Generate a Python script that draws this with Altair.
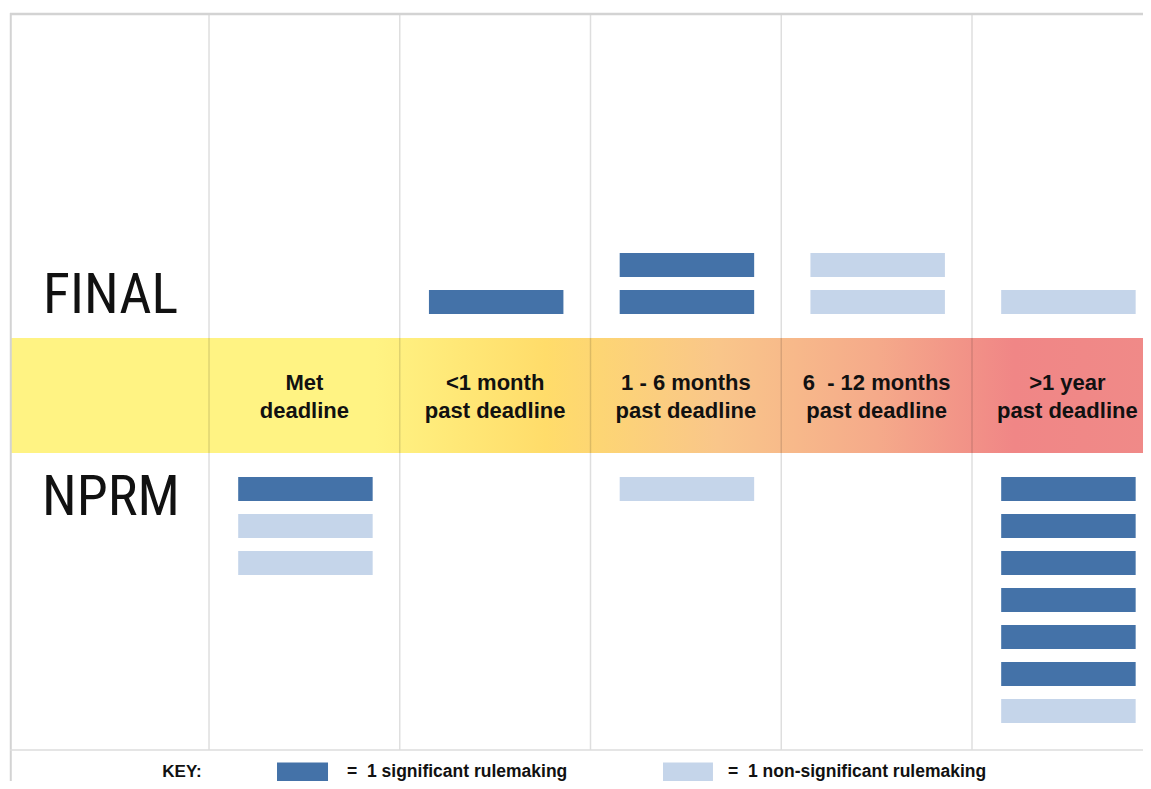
import altair as alt
import pandas as pd

# ---------------- data ----------------
categories = ["Met\ndeadline", "<1 month\npast deadline", "1 - 6 months\npast deadline",
              "6\u00a0\u00a0- 12 months\npast deadline", ">1 year\npast deadline"]
final_significant = [0, 1, 2, 0, 0]
final_non_significant = [0, 0, 0, 2, 1]
nprm_significant = [1, 0, 0, 0, 6]
nprm_non_significant = [2, 0, 1, 0, 1]
stage_labels = ["FINAL", "NPRM"]
key_labels = ["=\u00a0\u00a01 significant rulemaking", "=\u00a0\u00a01 non-significant rulemaking"]

DARK = "#4472A8"
LIGHT = "#C5D5EA"
NARROW = "Liberation Sans Narrow, Arial Narrow, Roboto Condensed, DejaVu Sans Condensed, Liberation Sans, sans-serif"
SANS = "Liberation Sans, Arial, sans-serif"

# ---------------- layout constants (scale units) ----------------
PX_PER_UNIT = 37.0
PLOT_H = 768
X_MIN, X_MAX = -1.0433, 4.9384
Y_MAX = (395.5 - 13) / PX_PER_UNIT
Y_MIN = Y_MAX - PLOT_H / PX_PER_UNIT
BAND = 1.554
FIRST_SLOT = 2.53
HALF_BAR = 0.324
BOTTOM_LINE = -9.581

xs = alt.Scale(domain=[X_MIN, X_MAX], nice=False, zero=False)
ys = alt.Scale(domain=[Y_MIN, Y_MAX], nice=False, zero=False)


def X(f):
    return alt.X(f, type="quantitative", scale=xs, axis=None)


def Y(f):
    return alt.Y(f, type="quantitative", scale=ys, axis=None)


# bars table
rows = []
for stage, sign, sig, non in [("FINAL", 1, final_significant, final_non_significant),
                              ("NPRM", -1, nprm_significant, nprm_non_significant)]:
    for i in range(len(categories)):
        kinds = ["significant"] * sig[i] + ["non-significant"] * non[i]
        for k, kind in enumerate(kinds):
            c = sign * (FIRST_SLOT + k)
            rows.append({"stage": stage, "cat": i, "kind": kind,
                         "x": i + 0.153, "x2": i + 0.858,
                         "y": c - HALF_BAR, "y2": c + HALF_BAR})
bars_df = pd.DataFrame(rows)

color_scale = alt.Scale(domain=["significant", "non-significant"], range=[DARK, LIGHT])

band = alt.Chart(pd.DataFrame([{"x": X_MIN, "x2": X_MAX, "y": -BAND, "y2": BAND}])).mark_rect(
    color=alt.LinearGradient(
        gradient="linear", x1=0, x2=1, y1=0, y2=0,
        stops=[alt.GradientStop(color="#FFF383", offset=0.0),
               alt.GradientStop(color="#FFF383", offset=0.32),
               alt.GradientStop(color="#FFDC6A", offset=0.47),
               alt.GradientStop(color="#F9C68A", offset=0.62),
               alt.GradientStop(color="#F5AA8A", offset=0.76),
               alt.GradientStop(color="#F08686", offset=0.88),
               alt.GradientStop(color="#F08A88", offset=1.0)])
).encode(x=X("x"), x2="x2", y=Y("y"), y2="y2")

grid = alt.Chart(pd.DataFrame({"x": list(range(len(categories))),
                               "y": [BOTTOM_LINE] * len(categories),
                               "y2": [Y_MAX] * len(categories)})).mark_rule(
    color="black", opacity=0.13, strokeWidth=1.5
).encode(x=X("x"), y=Y("y"), y2="y2")

left_border = alt.Chart(pd.DataFrame([{"x": X_MIN + 0.004, "y": Y_MIN, "y2": Y_MAX}])).mark_rule(
    color="#D3D3D3", strokeWidth=2
).encode(x=X("x"), y=Y("y"), y2="y2")

top_border = alt.Chart(pd.DataFrame([{"x": X_MIN, "x2": X_MAX, "y": Y_MAX - 0.03}])).mark_rule(
    color="#D3D3D3", strokeWidth=2.5
).encode(x=X("x"), x2="x2", y=Y("y"))

bottom_line = alt.Chart(pd.DataFrame([{"x": X_MIN, "x2": X_MAX, "y": BOTTOM_LINE}])).mark_rule(
    color="#DDDDDD", strokeWidth=1.5
).encode(x=X("x"), x2="x2", y=Y("y"))

bars = alt.Chart(bars_df).mark_rect().encode(
    x=X("x"), x2="x2", y=Y("y"), y2="y2",
    color=alt.Color("kind:N", scale=color_scale, legend=None)
)

stage_text = alt.Chart(pd.DataFrame({"label": stage_labels, "x": [-0.870, -0.875],
                                     "y": [2.23, -3.23]})).mark_text(
    align="left", baseline="alphabetic", font=NARROW, fontSize=56, color="#111111"
).encode(x=X("x"), y=Y("y"), text="label:N")

cat_text = alt.Chart(pd.DataFrame({"label": categories,
                                   "x": [i + 0.5 for i in range(len(categories))],
                                   "y": [0.34] * len(categories)})).mark_text(
    align="center", baseline="middle", lineBreak="\n", lineHeight=28,
    font=SANS, fontSize=22, fontWeight="bold", color="#111111"
).encode(x=X("x"), y=Y("y"), text="label:N")

KEY_Y = (395.5 - 772) / PX_PER_UNIT
key_title = alt.Chart(pd.DataFrame([{"label": "KEY:", "x": -0.1415, "y": KEY_Y}])).mark_text(
    align="center", baseline="middle", font=SANS, fontSize=17, fontWeight="bold", color="#111111"
).encode(x=X("x"), y=Y("y"), text="label:N")

key_rects = alt.Chart(pd.DataFrame({"kind": ["significant", "non-significant"],
                                    "x": [0.3565, 2.380], "x2": [0.6239, 2.642],
                                    "y": [KEY_Y - 0.257] * 2, "y2": [KEY_Y + 0.257] * 2})).mark_rect().encode(
    x=X("x"), x2="x2", y=Y("y"), y2="y2",
    color=alt.Color("kind:N", scale=color_scale, legend=None)
)

key_text = alt.Chart(pd.DataFrame({"label": key_labels, "x": [0.7235, 2.721],
                                   "y": [KEY_Y] * 2})).mark_text(
    align="left", baseline="middle", font=SANS, fontSize=17.5, fontWeight="bold", color="#111111"
).encode(x=X("x"), y=Y("y"), text="label:N")

chart = alt.layer(
    band, grid, left_border, top_border, bottom_line, bars,
    stage_text, cat_text, key_title, key_rects, key_text
).properties(
    width=1141, height=PLOT_H,
    padding={"left": 2, "top": 5, "right": -8, "bottom": 0},
    autosize="none",
    background="white"
).configure_view(stroke=None)

chart.save("out.html", embed_options={"renderer": "svg", "actions": False})
